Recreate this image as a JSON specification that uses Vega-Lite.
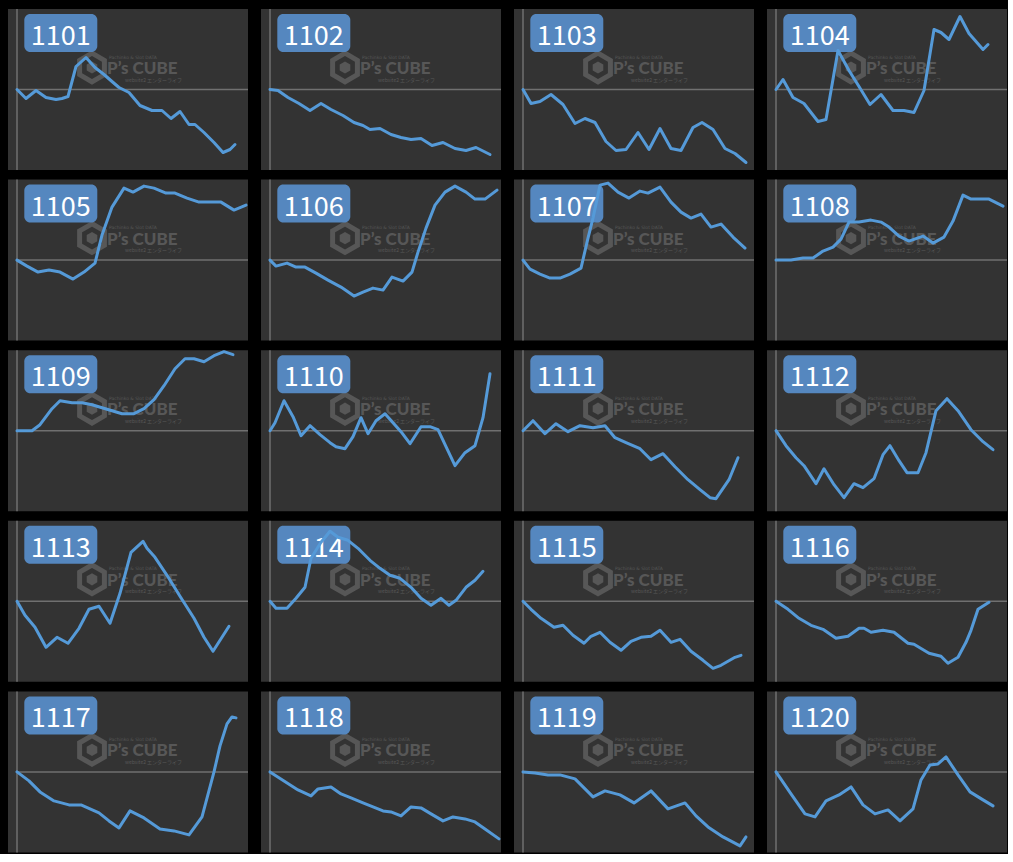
{
  "$schema": "https://vega.github.io/schema/vega-lite/v6.json",
  "background": "#000000",
  "padding": {"left": 8, "top": 7, "right": 0, "bottom": 0},
  "data": {"values": [
    {"m":"1101","x":0,"y":0},{"m":"1101","x":9,"y":-9},{"m":"1101","x":19,"y":-1},{"m":"1101","x":29,"y":-8},{"m":"1101","x":39,"y":-10},{"m":"1101","x":45,"y":-9},{"m":"1101","x":51,"y":-7},{"m":"1101","x":59,"y":23},{"m":"1101","x":69,"y":32},{"m":"1101","x":78,"y":22},{"m":"1101","x":87,"y":15},{"m":"1101","x":95,"y":8},{"m":"1101","x":102,"y":2},{"m":"1101","x":112,"y":-3},{"m":"1101","x":123,"y":-16},{"m":"1101","x":135,"y":-21},{"m":"1101","x":145,"y":-21},{"m":"1101","x":154,"y":-29},{"m":"1101","x":163,"y":-22},{"m":"1101","x":172,"y":-35},{"m":"1101","x":178,"y":-35},{"m":"1101","x":187,"y":-43},{"m":"1101","x":197,"y":-53},{"m":"1101","x":206,"y":-63},{"m":"1101","x":213,"y":-60},{"m":"1101","x":218,"y":-55},
    {"m":"1102","x":0,"y":0},{"m":"1102","x":8,"y":-1},{"m":"1102","x":18,"y":-8},{"m":"1102","x":29,"y":-14},{"m":"1102","x":40,"y":-21},{"m":"1102","x":51,"y":-14},{"m":"1102","x":61,"y":-20},{"m":"1102","x":73,"y":-26},{"m":"1102","x":84,"y":-33},{"m":"1102","x":93,"y":-36},{"m":"1102","x":100,"y":-40},{"m":"1102","x":110,"y":-39},{"m":"1102","x":121,"y":-45},{"m":"1102","x":131,"y":-48},{"m":"1102","x":141,"y":-50},{"m":"1102","x":151,"y":-49},{"m":"1102","x":162,"y":-56},{"m":"1102","x":173,"y":-53},{"m":"1102","x":185,"y":-59},{"m":"1102","x":196,"y":-61},{"m":"1102","x":206,"y":-58},{"m":"1102","x":220,"y":-65},
    {"m":"1103","x":0,"y":0},{"m":"1103","x":8,"y":-14},{"m":"1103","x":17,"y":-12},{"m":"1103","x":28,"y":-5},{"m":"1103","x":40,"y":-15},{"m":"1103","x":52,"y":-34},{"m":"1103","x":62,"y":-29},{"m":"1103","x":72,"y":-33},{"m":"1103","x":83,"y":-52},{"m":"1103","x":93,"y":-61},{"m":"1103","x":103,"y":-60},{"m":"1103","x":115,"y":-43},{"m":"1103","x":126,"y":-60},{"m":"1103","x":137,"y":-39},{"m":"1103","x":148,"y":-59},{"m":"1103","x":158,"y":-61},{"m":"1103","x":170,"y":-38},{"m":"1103","x":179,"y":-33},{"m":"1103","x":190,"y":-40},{"m":"1103","x":202,"y":-59},{"m":"1103","x":212,"y":-64},{"m":"1103","x":223,"y":-73},
    {"m":"1104","x":0,"y":0},{"m":"1104","x":7,"y":10},{"m":"1104","x":17,"y":-8},{"m":"1104","x":28,"y":-14},{"m":"1104","x":42,"y":-32},{"m":"1104","x":50,"y":-30},{"m":"1104","x":62,"y":39},{"m":"1104","x":73,"y":19},{"m":"1104","x":83,"y":3},{"m":"1104","x":94,"y":-15},{"m":"1104","x":105,"y":-5},{"m":"1104","x":117,"y":-21},{"m":"1104","x":128,"y":-21},{"m":"1104","x":138,"y":-23},{"m":"1104","x":148,"y":-1},{"m":"1104","x":158,"y":60},{"m":"1104","x":165,"y":57},{"m":"1104","x":173,"y":50},{"m":"1104","x":184,"y":73},{"m":"1104","x":193,"y":56},{"m":"1104","x":207,"y":40},{"m":"1104","x":212,"y":45},
    {"m":"1105","x":0,"y":0},{"m":"1105","x":10,"y":-6},{"m":"1105","x":21,"y":-12},{"m":"1105","x":32,"y":-10},{"m":"1105","x":43,"y":-12},{"m":"1105","x":56,"y":-19},{"m":"1105","x":67,"y":-12},{"m":"1105","x":78,"y":-3},{"m":"1105","x":85,"y":25},{"m":"1105","x":95,"y":53},{"m":"1105","x":107,"y":72},{"m":"1105","x":116,"y":68},{"m":"1105","x":127,"y":74},{"m":"1105","x":137,"y":72},{"m":"1105","x":149,"y":67},{"m":"1105","x":158,"y":67},{"m":"1105","x":170,"y":62},{"m":"1105","x":182,"y":58},{"m":"1105","x":193,"y":58},{"m":"1105","x":204,"y":58},{"m":"1105","x":217,"y":50},{"m":"1105","x":229,"y":55},
    {"m":"1106","x":0,"y":0},{"m":"1106","x":6,"y":-6},{"m":"1106","x":17,"y":-3},{"m":"1106","x":26,"y":-7},{"m":"1106","x":35,"y":-7},{"m":"1106","x":46,"y":-13},{"m":"1106","x":58,"y":-20},{"m":"1106","x":71,"y":-27},{"m":"1106","x":84,"y":-36},{"m":"1106","x":93,"y":-32},{"m":"1106","x":103,"y":-28},{"m":"1106","x":113,"y":-30},{"m":"1106","x":122,"y":-17},{"m":"1106","x":133,"y":-21},{"m":"1106","x":142,"y":-12},{"m":"1106","x":148,"y":8},{"m":"1106","x":156,"y":32},{"m":"1106","x":165,"y":55},{"m":"1106","x":175,"y":68},{"m":"1106","x":185,"y":74},{"m":"1106","x":196,"y":68},{"m":"1106","x":205,"y":61},{"m":"1106","x":215,"y":61},{"m":"1106","x":227,"y":70},
    {"m":"1107","x":0,"y":0},{"m":"1107","x":7,"y":-9},{"m":"1107","x":17,"y":-14},{"m":"1107","x":27,"y":-18},{"m":"1107","x":37,"y":-18},{"m":"1107","x":47,"y":-14},{"m":"1107","x":58,"y":-8},{"m":"1107","x":65,"y":22},{"m":"1107","x":70,"y":42},{"m":"1107","x":77,"y":75},{"m":"1107","x":85,"y":77},{"m":"1107","x":95,"y":68},{"m":"1107","x":106,"y":62},{"m":"1107","x":117,"y":69},{"m":"1107","x":125,"y":67},{"m":"1107","x":137,"y":73},{"m":"1107","x":148,"y":58},{"m":"1107","x":158,"y":48},{"m":"1107","x":168,"y":42},{"m":"1107","x":178,"y":46},{"m":"1107","x":188,"y":33},{"m":"1107","x":198,"y":36},{"m":"1107","x":210,"y":23},{"m":"1107","x":222,"y":12},
    {"m":"1108","x":0,"y":0},{"m":"1108","x":15,"y":0},{"m":"1108","x":27,"y":2},{"m":"1108","x":37,"y":2},{"m":"1108","x":47,"y":9},{"m":"1108","x":57,"y":13},{"m":"1108","x":65,"y":21},{"m":"1108","x":73,"y":38},{"m":"1108","x":83,"y":38},{"m":"1108","x":95,"y":40},{"m":"1108","x":105,"y":38},{"m":"1108","x":113,"y":33},{"m":"1108","x":123,"y":24},{"m":"1108","x":133,"y":19},{"m":"1108","x":147,"y":24},{"m":"1108","x":157,"y":17},{"m":"1108","x":168,"y":23},{"m":"1108","x":177,"y":39},{"m":"1108","x":187,"y":65},{"m":"1108","x":195,"y":61},{"m":"1108","x":213,"y":61},{"m":"1108","x":227,"y":54},
    {"m":"1109","x":0,"y":0},{"m":"1109","x":15,"y":0},{"m":"1109","x":23,"y":6},{"m":"1109","x":35,"y":22},{"m":"1109","x":43,"y":30},{"m":"1109","x":55,"y":28},{"m":"1109","x":65,"y":28},{"m":"1109","x":75,"y":26},{"m":"1109","x":85,"y":23},{"m":"1109","x":95,"y":20},{"m":"1109","x":105,"y":17},{"m":"1109","x":117,"y":17},{"m":"1109","x":127,"y":22},{"m":"1109","x":137,"y":31},{"m":"1109","x":147,"y":45},{"m":"1109","x":158,"y":62},{"m":"1109","x":168,"y":72},{"m":"1109","x":177,"y":72},{"m":"1109","x":187,"y":69},{"m":"1109","x":197,"y":75},{"m":"1109","x":207,"y":79},{"m":"1109","x":216,"y":76},
    {"m":"1110","x":0,"y":0},{"m":"1110","x":5,"y":8},{"m":"1110","x":14,"y":30},{"m":"1110","x":23,"y":14},{"m":"1110","x":31,"y":-5},{"m":"1110","x":40,"y":5},{"m":"1110","x":50,"y":-4},{"m":"1110","x":60,"y":-12},{"m":"1110","x":66,"y":-16},{"m":"1110","x":75,"y":-18},{"m":"1110","x":83,"y":-6},{"m":"1110","x":91,"y":13},{"m":"1110","x":98,"y":-3},{"m":"1110","x":106,"y":10},{"m":"1110","x":115,"y":17},{"m":"1110","x":123,"y":8},{"m":"1110","x":131,"y":-1},{"m":"1110","x":140,"y":-13},{"m":"1110","x":151,"y":4},{"m":"1110","x":160,"y":4},{"m":"1110","x":168,"y":1},{"m":"1110","x":176,"y":-16},{"m":"1110","x":185,"y":-35},{"m":"1110","x":195,"y":-22},{"m":"1110","x":205,"y":-15},{"m":"1110","x":213,"y":13},{"m":"1110","x":220,"y":57},
    {"m":"1111","x":0,"y":0},{"m":"1111","x":10,"y":10},{"m":"1111","x":22,"y":-3},{"m":"1111","x":33,"y":7},{"m":"1111","x":45,"y":-1},{"m":"1111","x":57,"y":5},{"m":"1111","x":70,"y":3},{"m":"1111","x":82,"y":5},{"m":"1111","x":92,"y":-7},{"m":"1111","x":103,"y":-12},{"m":"1111","x":117,"y":-18},{"m":"1111","x":128,"y":-29},{"m":"1111","x":140,"y":-23},{"m":"1111","x":152,"y":-36},{"m":"1111","x":165,"y":-49},{"m":"1111","x":177,"y":-59},{"m":"1111","x":187,"y":-67},{"m":"1111","x":193,"y":-68},{"m":"1111","x":206,"y":-49},{"m":"1111","x":215,"y":-27},
    {"m":"1112","x":0,"y":0},{"m":"1112","x":10,"y":-15},{"m":"1112","x":20,"y":-27},{"m":"1112","x":28,"y":-35},{"m":"1112","x":40,"y":-53},{"m":"1112","x":48,"y":-38},{"m":"1112","x":58,"y":-54},{"m":"1112","x":68,"y":-67},{"m":"1112","x":78,"y":-53},{"m":"1112","x":87,"y":-57},{"m":"1112","x":98,"y":-48},{"m":"1112","x":107,"y":-24},{"m":"1112","x":114,"y":-15},{"m":"1112","x":123,"y":-30},{"m":"1112","x":131,"y":-42},{"m":"1112","x":142,"y":-42},{"m":"1112","x":150,"y":-22},{"m":"1112","x":160,"y":20},{"m":"1112","x":171,"y":32},{"m":"1112","x":182,"y":20},{"m":"1112","x":195,"y":1},{"m":"1112","x":207,"y":-11},{"m":"1112","x":217,"y":-19},
    {"m":"1113","x":0,"y":0},{"m":"1113","x":8,"y":-14},{"m":"1113","x":18,"y":-26},{"m":"1113","x":29,"y":-46},{"m":"1113","x":40,"y":-36},{"m":"1113","x":51,"y":-42},{"m":"1113","x":62,"y":-27},{"m":"1113","x":72,"y":-8},{"m":"1113","x":82,"y":-5},{"m":"1113","x":93,"y":-22},{"m":"1113","x":103,"y":8},{"m":"1113","x":114,"y":49},{"m":"1113","x":126,"y":60},{"m":"1113","x":130,"y":53},{"m":"1113","x":138,"y":44},{"m":"1113","x":150,"y":26},{"m":"1113","x":163,"y":5},{"m":"1113","x":177,"y":-17},{"m":"1113","x":187,"y":-36},{"m":"1113","x":196,"y":-50},{"m":"1113","x":212,"y":-25},
    {"m":"1114","x":0,"y":0},{"m":"1114","x":6,"y":-7},{"m":"1114","x":17,"y":-7},{"m":"1114","x":26,"y":3},{"m":"1114","x":35,"y":14},{"m":"1114","x":41,"y":43},{"m":"1114","x":51,"y":59},{"m":"1114","x":60,"y":70},{"m":"1114","x":68,"y":64},{"m":"1114","x":78,"y":61},{"m":"1114","x":88,"y":53},{"m":"1114","x":100,"y":41},{"m":"1114","x":110,"y":33},{"m":"1114","x":120,"y":26},{"m":"1114","x":130,"y":23},{"m":"1114","x":141,"y":14},{"m":"1114","x":151,"y":3},{"m":"1114","x":161,"y":-4},{"m":"1114","x":171,"y":3},{"m":"1114","x":179,"y":-4},{"m":"1114","x":186,"y":1},{"m":"1114","x":196,"y":14},{"m":"1114","x":205,"y":21},{"m":"1114","x":213,"y":30},
    {"m":"1115","x":0,"y":0},{"m":"1115","x":8,"y":-8},{"m":"1115","x":18,"y":-17},{"m":"1115","x":31,"y":-26},{"m":"1115","x":40,"y":-24},{"m":"1115","x":50,"y":-34},{"m":"1115","x":61,"y":-42},{"m":"1115","x":68,"y":-35},{"m":"1115","x":77,"y":-31},{"m":"1115","x":87,"y":-41},{"m":"1115","x":98,"y":-49},{"m":"1115","x":108,"y":-40},{"m":"1115","x":118,"y":-36},{"m":"1115","x":128,"y":-35},{"m":"1115","x":137,"y":-29},{"m":"1115","x":148,"y":-41},{"m":"1115","x":157,"y":-38},{"m":"1115","x":168,"y":-50},{"m":"1115","x":180,"y":-59},{"m":"1115","x":190,"y":-67},{"m":"1115","x":198,"y":-64},{"m":"1115","x":212,"y":-56},{"m":"1115","x":218,"y":-54},
    {"m":"1116","x":0,"y":0},{"m":"1116","x":12,"y":-8},{"m":"1116","x":23,"y":-17},{"m":"1116","x":35,"y":-24},{"m":"1116","x":47,"y":-28},{"m":"1116","x":60,"y":-37},{"m":"1116","x":72,"y":-35},{"m":"1116","x":83,"y":-27},{"m":"1116","x":88,"y":-27},{"m":"1116","x":95,"y":-31},{"m":"1116","x":107,"y":-29},{"m":"1116","x":118,"y":-31},{"m":"1116","x":132,"y":-42},{"m":"1116","x":138,"y":-43},{"m":"1116","x":153,"y":-52},{"m":"1116","x":165,"y":-55},{"m":"1116","x":172,"y":-62},{"m":"1116","x":182,"y":-56},{"m":"1116","x":190,"y":-41},{"m":"1116","x":195,"y":-29},{"m":"1116","x":202,"y":-8},{"m":"1116","x":213,"y":-1},
    {"m":"1117","x":0,"y":0},{"m":"1117","x":12,"y":-9},{"m":"1117","x":23,"y":-20},{"m":"1117","x":37,"y":-29},{"m":"1117","x":52,"y":-33},{"m":"1117","x":64,"y":-33},{"m":"1117","x":73,"y":-37},{"m":"1117","x":82,"y":-41},{"m":"1117","x":92,"y":-49},{"m":"1117","x":102,"y":-56},{"m":"1117","x":113,"y":-39},{"m":"1117","x":127,"y":-46},{"m":"1117","x":143,"y":-57},{"m":"1117","x":157,"y":-59},{"m":"1117","x":172,"y":-63},{"m":"1117","x":185,"y":-45},{"m":"1117","x":197,"y":0},{"m":"1117","x":203,"y":26},{"m":"1117","x":210,"y":48},{"m":"1117","x":215,"y":55},{"m":"1117","x":219,"y":54},
    {"m":"1118","x":0,"y":0},{"m":"1118","x":14,"y":-9},{"m":"1118","x":28,"y":-18},{"m":"1118","x":41,"y":-24},{"m":"1118","x":48,"y":-17},{"m":"1118","x":61,"y":-15},{"m":"1118","x":71,"y":-22},{"m":"1118","x":81,"y":-26},{"m":"1118","x":93,"y":-31},{"m":"1118","x":103,"y":-35},{"m":"1118","x":113,"y":-39},{"m":"1118","x":121,"y":-40},{"m":"1118","x":131,"y":-44},{"m":"1118","x":141,"y":-35},{"m":"1118","x":151,"y":-36},{"m":"1118","x":161,"y":-42},{"m":"1118","x":173,"y":-49},{"m":"1118","x":183,"y":-45},{"m":"1118","x":195,"y":-47},{"m":"1118","x":205,"y":-50},{"m":"1118","x":215,"y":-57},{"m":"1118","x":229,"y":-67},
    {"m":"1119","x":0,"y":0},{"m":"1119","x":12,"y":-1},{"m":"1119","x":25,"y":-3},{"m":"1119","x":37,"y":-3},{"m":"1119","x":52,"y":-7},{"m":"1119","x":70,"y":-25},{"m":"1119","x":82,"y":-19},{"m":"1119","x":97,"y":-23},{"m":"1119","x":111,"y":-31},{"m":"1119","x":128,"y":-19},{"m":"1119","x":145,"y":-37},{"m":"1119","x":162,"y":-31},{"m":"1119","x":173,"y":-44},{"m":"1119","x":185,"y":-55},{"m":"1119","x":200,"y":-65},{"m":"1119","x":217,"y":-74},{"m":"1119","x":223,"y":-65},
    {"m":"1120","x":0,"y":0},{"m":"1120","x":15,"y":-22},{"m":"1120","x":29,"y":-42},{"m":"1120","x":39,"y":-45},{"m":"1120","x":50,"y":-29},{"m":"1120","x":63,"y":-23},{"m":"1120","x":75,"y":-15},{"m":"1120","x":87,"y":-33},{"m":"1120","x":99,"y":-42},{"m":"1120","x":112,"y":-38},{"m":"1120","x":124,"y":-49},{"m":"1120","x":137,"y":-37},{"m":"1120","x":145,"y":-8},{"m":"1120","x":154,"y":7},{"m":"1120","x":162,"y":8},{"m":"1120","x":170,"y":15},{"m":"1120","x":182,"y":-3},{"m":"1120","x":194,"y":-20},{"m":"1120","x":207,"y":-28},{"m":"1120","x":217,"y":-34}
  ]},
  "facet": {"field": "m", "type": "nominal", "header": {"title": null, "labels": true, "labelExpr": "''", "labelFontSize": 1, "labelColor": "#000000", "labelPadding": 0, "titlePadding": 0}},
  "columns": 4,
  "spacing": {"row": 6.6, "column": 12},
  "spec": {
    "width": 240,
    "height": 161,
    "layer": [
      {
        "transform": [{"filter": "datum.x == 0"}],
        "mark": {"type": "point", "shape": "M0,-1L0.866,-0.5L0.866,0.5L0,1L-0.866,0.5L-0.866,-0.5Z", "filled": false, "stroke": "#575757", "strokeWidth": 5, "opacity": 1, "size": 820},
        "encoding": {"x": {"datum": 75}, "y": {"datum": 22}}
      },
      {
        "transform": [{"filter": "datum.x == 0"}],
        "mark": {"type": "point", "shape": "M0,-1L0.866,-0.5L0.866,0.5L0,1L-0.866,0.5L-0.866,-0.5Z", "filled": true, "color": "#575757", "opacity": 1, "size": 150},
        "encoding": {"x": {"datum": 75}, "y": {"datum": 22}}
      },
      {
        "transform": [{"filter": "datum.x == 0"}],
        "mark": {"type": "text", "text": "P’s CUBE", "font": "Lato", "fontWeight": 900, "fontSize": 17, "color": "#575757", "align": "left", "baseline": "alphabetic"},
        "encoding": {"x": {"datum": 90}, "y": {"datum": 15.5}}
      },
      {
        "transform": [{"filter": "datum.x == 0"}],
        "mark": {"type": "text", "text": "Pachinko & Slot DATA", "font": "DejaVu Sans", "fontSize": 4.5, "color": "#575757", "align": "left", "baseline": "alphabetic"},
        "encoding": {"x": {"datum": 92}, "y": {"datum": 31}}
      },
      {
        "transform": [{"filter": "datum.x == 0"}],
        "mark": {"type": "text", "text": "website2 エンターライフ", "font": "Noto Sans CJK JP", "fontSize": 5, "color": "#575757", "align": "left", "baseline": "alphabetic"},
        "encoding": {"x": {"datum": 108}, "y": {"datum": 8}}
      },
      {
        "transform": [{"filter": "datum.x == 0"}],
        "mark": {"type": "rule", "color": "#707070", "strokeWidth": 1.5},
        "encoding": {"y": {"datum": 0}, "x": {"datum": 0}, "x2": {"datum": 231}}
      },
      {
        "transform": [{"filter": "datum.x == 0"}],
        "mark": {"type": "rule", "color": "#707070", "strokeWidth": 1.5},
        "encoding": {"x": {"datum": 0}, "y": {"datum": -80.5}, "y2": {"datum": 80.5}}
      },
      {
        "transform": [{"filter": "datum.x == 0"}],
        "mark": {"type": "rect", "color": "#5587bf", "cornerRadius": 6},
        "encoding": {"x": {"datum": 7.3}, "x2": {"datum": 80.3}, "y": {"datum": 75.5}, "y2": {"datum": 37.5}}
      },
      {
        "transform": [{"filter": "datum.x == 0"}],
        "mark": {"type": "text", "font": "Noto Sans CJK JP", "fontSize": 27, "color": "#ffffff", "align": "center", "baseline": "alphabetic"},
        "encoding": {"x": {"datum": 43.8}, "y": {"datum": 44.5}, "text": {"field": "m"}}
      },
      {
        "mark": {"type": "line", "color": "#559ad8", "strokeWidth": 3, "strokeJoin": "round", "strokeCap": "round"},
        "encoding": {
          "x": {"field": "x", "type": "quantitative", "scale": {"domain": [-9, 231], "nice": false, "zero": false}, "axis": null},
          "y": {"field": "y", "type": "quantitative", "scale": {"domain": [-80.5, 80.5], "nice": false, "zero": false}, "axis": null}
        }
      }
    ]
  },
  "config": {
    "view": {"fill": "#333333", "stroke": null},
    "axis": {"disable": true}
  }
}
